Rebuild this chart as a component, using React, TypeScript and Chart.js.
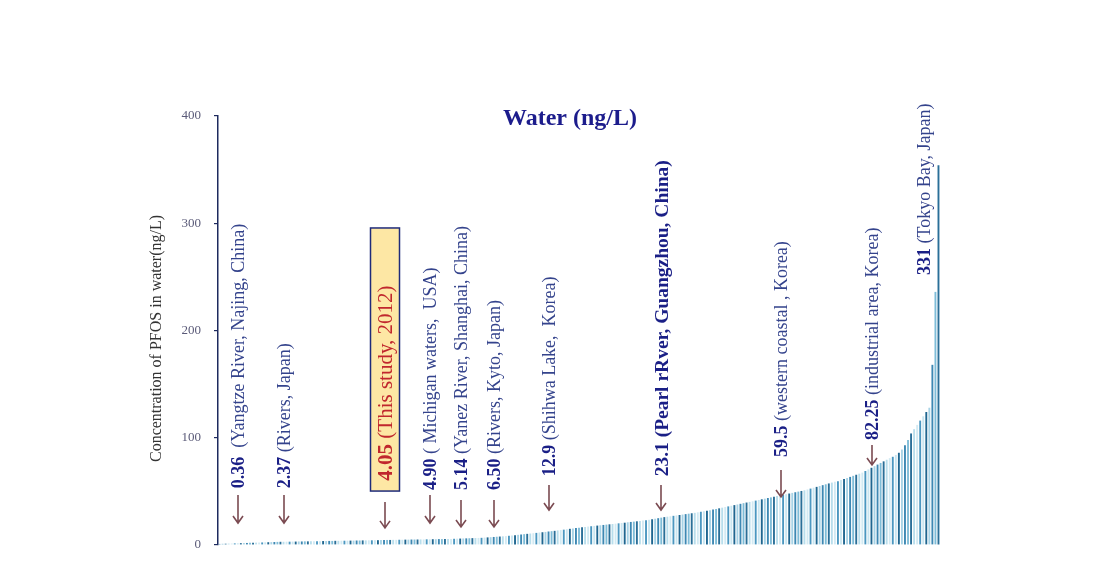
import React, { useEffect, useRef } from "react";
import { Chart, registerables } from "chart.js";

Chart.register(...registerables);

// ---- Data (sorted concentrations of PFOS in water, ng/L) ----
const concentrations: number[] = [
  1.0, 1.1, 1.2, 1.3, 1.4, 1.5, 1.6, 1.7, 1.8, 1.9,
  2.0, 2.1, 2.2, 2.3, 2.4, 2.5, 2.6, 2.7, 2.8, 2.9,
  3.0, 3.0, 3.1, 3.1, 3.2, 3.2, 3.3, 3.3, 3.4, 3.4,
  3.5, 3.5, 3.6, 3.6, 3.7, 3.7, 3.8, 3.8, 3.9, 3.9,
  4.0, 4.0, 4.05, 4.1, 4.1, 4.2, 4.2, 4.3, 4.3, 4.4,
  4.4, 4.5, 4.5, 4.6, 4.6, 4.7, 4.7, 4.8, 4.8, 4.9,
  4.9, 5.0, 5.0, 5.1, 5.1, 5.14, 5.2, 5.2, 5.3, 5.3,
  5.4, 5.4, 5.5, 5.5, 5.6, 5.6, 5.7, 5.8, 5.9, 6.0,
  6.1, 6.2, 6.3, 6.4, 6.5, 6.6, 6.7, 6.9, 7.1, 7.3,
  7.5, 7.7, 7.9, 8.1, 8.3, 8.6, 8.9, 9.2, 9.5, 9.8,
  10.1, 10.4, 10.7, 11.0, 11.3, 11.6, 11.9, 12.2, 12.6, 12.9,
  13.2, 13.6, 14.0, 14.3, 14.7, 15.1, 15.4, 15.8, 16.1, 16.5,
  16.8, 17.2, 17.5, 17.8, 18.1, 18.4, 18.7, 19.0, 19.3, 19.6,
  19.9, 20.2, 20.5, 20.8, 21.2, 21.5, 21.8, 22.1, 22.4, 22.8,
  23.1, 23.5, 24.0, 24.5, 25.0, 25.5, 26.0, 26.4, 26.8, 27.2,
  27.6, 28.0, 28.4, 28.8, 29.2, 29.6, 30.0, 30.5, 31.0, 31.5,
  32.0, 32.5, 33.0, 33.6, 34.2, 34.8, 35.4, 36.0, 36.6, 37.2,
  37.8, 38.4, 39.0, 39.6, 40.2, 40.8, 41.4, 42.0, 42.6, 43.2,
  43.8, 44.4, 45.0, 45.6, 46.2, 46.8, 47.4, 48.0, 48.6, 49.2,
  49.8, 50.4, 51.0, 51.8, 52.6, 53.4, 54.2, 55.0, 55.8, 56.6,
  57.4, 58.2, 59.0, 59.5, 60.5, 61.5, 62.5, 63.5, 64.5, 65.5,
  66.5, 67.5, 69.0, 70.5, 72.0, 73.5, 75.0, 76.5, 78.0, 79.5,
  81.0, 82.25, 84.0, 86.0, 89.0, 93.0, 98.0, 104.0, 108.0, 112.0,
  116.0, 120.0, 124.0, 128.0, 168.0, 236.0, 354.0,
];

const sampleLabels: string[] = concentrations.map((_, i) => String(i + 1));

const yTicks: number[] = [0, 100, 200, 300, 400];

const chartTitle = "Water (ng/L)";
const yAxisTitle = "Concentration of PFOS in water(ng/L)";

// Annotated literature values
const annValues: string[] = ["0.36", "2.37", "4.05", "4.90", "5.14", "6.50", "12.9", "23.1", "59.5", "82.25", "331"];
const annTexts: string[] = [
  "  (Yangtze River, Najing, China)",
  " (Rivers, Japan)",
  " (This study, 2012)",
  " ( Michigan waters,  USA)",
  " (Yanez River, Shanghai, China)",
  " (Rivers, Kyto, Japan)",
  " (Shihwa Lake,  Korea)",
  " (Pearl rRver, Guangzhou, China)",
  " (western coastal , Korea)",
  " (industrial area, Korea)",
  " (Tokyo Bay, Japan)",
];

// ---- Styling / layout ----
// colours assigned counting back from the last (largest) bar
const BAR_PALETTE = ["#2a6f98", "#7fbdd8", "#3d88b3", "#a7d3e6", "#1f6690", "#c9e6f1", "#4b97c0", "#d2eaf3", "#b8deec"];
const SERIF = "'Liberation Serif', 'Times New Roman', serif";
const AXIS_COLOR = "#1d2a5e";

const ANN_LAYOUT = [
  { posPx: 238, arrowTop: 46.6, arrowTip: 20.5, textStart: 53.0, kind: "normal" },
  { posPx: 284, arrowTop: 46.6, arrowTip: 20.5, textStart: 53.0, kind: "normal" },
  { posPx: 385, arrowTop: 40.1, arrowTip: 16.0, textStart: 60.0, kind: "study" },
  { posPx: 430, arrowTop: 46.6, arrowTip: 20.5, textStart: 51.3, kind: "normal" },
  { posPx: 461, arrowTop: 42.0, arrowTip: 16.8, textStart: 51.3, kind: "normal" },
  { posPx: 494, arrowTop: 42.0, arrowTip: 16.8, textStart: 51.3, kind: "normal" },
  { posPx: 549, arrowTop: 55.9, arrowTip: 32.6, textStart: 64.0, kind: "normal" },
  { posPx: 661, arrowTop: 55.9, arrowTip: 32.6, textStart: 64.0, kind: "bold" },
  { posPx: 781, arrowTop: 70.0, arrowTip: 44.8, textStart: 82.0, kind: "normal" },
  { posPx: 872, arrowTop: 93.2, arrowTip: 74.6, textStart: 98.0, kind: "normal" },
  { posPx: 924, arrowTop: NaN, arrowTip: NaN, textStart: 251.7, kind: "normal" },
];
const STUDY_BOX = { top: 295.6, bottom: 50.3, halfWidth: 14.5 };

const annotationPlugin = {
  id: "pfosAnnotations",
  afterDraw(chart: any) {
    const { ctx, scales, chartArea } = chart;
    const xs = scales.x;
    const ys = scales.y;
    const n = concentrations.length;
    const toPos = (px: number) => ((px - chartArea.left) / (chartArea.right - chartArea.left)) * n - 0.5;
    ctx.save();

    ctx.fillStyle = "#1c1c8c";
    ctx.font = `bold 24px ${SERIF}`;
    ctx.textAlign = "center";
    ctx.textBaseline = "middle";
    ctx.fillText(chartTitle, 570, 119);

    ctx.save();
    ctx.translate(157, (chartArea.top + chartArea.bottom) / 2 + 8);
    ctx.rotate(-Math.PI / 2);
    ctx.fillStyle = "#333333";
    ctx.font = `16px ${SERIF}`;
    ctx.textAlign = "center";
    ctx.textBaseline = "middle";
    ctx.fillText(yAxisTitle, 0, 0);
    ctx.restore();

    ANN_LAYOUT.forEach((a, i) => {
      const x = xs.getPixelForValue(toPos(a.posPx));
      if (a.kind === "study") {
        const bt = ys.getPixelForValue(STUDY_BOX.top);
        const bb = ys.getPixelForValue(STUDY_BOX.bottom);
        ctx.fillStyle = "#fde7a4";
        ctx.fillRect(x - STUDY_BOX.halfWidth, bt, STUDY_BOX.halfWidth * 2, bb - bt);
        ctx.strokeStyle = "#1f2b7a";
        ctx.lineWidth = 1.5;
        ctx.strokeRect(x - STUDY_BOX.halfWidth, bt, STUDY_BOX.halfWidth * 2, bb - bt);
      }
      if (!isNaN(a.arrowTop)) {
        const y0 = ys.getPixelForValue(a.arrowTop);
        const y1 = ys.getPixelForValue(a.arrowTip);
        ctx.strokeStyle = "#7b4b52";
        ctx.lineWidth = 1.6;
        ctx.beginPath();
        ctx.moveTo(x, y0);
        ctx.lineTo(x, y1);
        ctx.moveTo(x - 5, y1 - 7);
        ctx.lineTo(x, y1);
        ctx.lineTo(x + 5, y1 - 7);
        ctx.stroke();
      }
      const ty = ys.getPixelForValue(a.textStart);
      ctx.save();
      ctx.translate(x + 1.5, ty);
      ctx.rotate(-Math.PI / 2);
      ctx.textAlign = "left";
      ctx.textBaseline = "middle";
      let numFont = `bold 18px ${SERIF}`;
      let txtFont = `18px ${SERIF}`;
      let numColor = "#1a1f86";
      let txtColor = "#34438c";
      if (a.kind === "study") {
        numFont = `bold 21px ${SERIF}`;
        txtFont = `21px ${SERIF}`;
        numColor = "#c0272d";
        txtColor = "#c0272d";
      } else if (a.kind === "bold") {
        numFont = `bold 19.5px ${SERIF}`;
        txtFont = `bold 19.5px ${SERIF}`;
        numColor = "#1a1f86";
        txtColor = "#1a1f86";
      }
      ctx.font = numFont;
      ctx.fillStyle = numColor;
      ctx.fillText(annValues[i], 0, 0);
      const w = ctx.measureText(annValues[i]).width;
      ctx.font = txtFont;
      ctx.fillStyle = txtColor;
      ctx.fillText(annTexts[i], w, 0);
      ctx.restore();
    });

    ctx.restore();
  },
};

export default function App() {
  const canvasRef = useRef<HTMLCanvasElement | null>(null);

  useEffect(() => {
    if (!canvasRef.current) return;
    const n = concentrations.length;
    const chart = new Chart(canvasRef.current, {
      type: "bar",
      data: {
        labels: sampleLabels,
        datasets: [
          {
            data: concentrations,
            backgroundColor: concentrations.map((_, i) => BAR_PALETTE[(n - 1 - i) % BAR_PALETTE.length]),
            borderWidth: 0,
            barPercentage: 0.62,
            categoryPercentage: 1,
          },
        ],
      },
      options: {
        animation: false,
        responsive: true,
        maintainAspectRatio: false,
        layout: { padding: { left: 0, right: 166, top: 116, bottom: 27 } },
        plugins: {
          legend: { display: false },
          tooltip: { enabled: false },
          title: { display: false },
        },
        scales: {
          x: {
            display: false,
            offset: true,
          },
          y: {
            min: 0,
            max: 400,
            afterFit: (scale: any) => {
              scale.width = 218;
            },
            afterBuildTicks: (scale: any) => {
              scale.ticks = yTicks.map((v) => ({ value: v }));
            },
            ticks: {
              color: "#5a5a78",
              font: { family: SERIF, size: 13 },
              padding: 13,
            },
            grid: {
              display: true,
              drawOnChartArea: false,
              drawTicks: true,
              tickLength: 4,
              color: AXIS_COLOR,
              lineWidth: 1.2,
            },
            border: { display: true, color: AXIS_COLOR, width: 1.5 },
          },
        },
      },
      plugins: [annotationPlugin],
    });
    return () => chart.destroy();
  }, []);

  return (
    <div style={{ position: "fixed", left: 0, top: 0, width: 1106, height: 572, background: "#ffffff" }}>
      <canvas ref={canvasRef} />
    </div>
  );
}
